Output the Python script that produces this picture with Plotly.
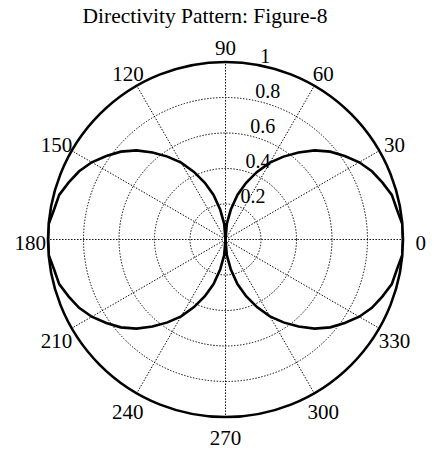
import plotly.graph_objects as go

# Figure-8 directivity pattern, sampled every 5 degrees
theta_deg = list(range(0, 361, 5))
gain = [
    1.00, 1.00, 0.98, 0.97, 0.94, 0.91, 0.87, 0.82, 0.77, 0.71, 0.64, 0.57, 0.50,
    0.42, 0.34, 0.26, 0.17, 0.09, 0.00,
    0.09, 0.17, 0.26, 0.34, 0.42, 0.50, 0.57, 0.64, 0.71, 0.77, 0.82, 0.87, 0.91,
    0.94, 0.97, 0.98, 1.00, 1.00,
    1.00, 0.98, 0.97, 0.94, 0.91, 0.87, 0.82, 0.77, 0.71, 0.64, 0.57, 0.50,
    0.42, 0.34, 0.26, 0.17, 0.09, 0.00,
    0.09, 0.17, 0.26, 0.34, 0.42, 0.50, 0.57, 0.64, 0.71, 0.77, 0.82, 0.87, 0.91,
    0.94, 0.97, 0.98, 1.00, 1.00,
]

angle_ticks = [0, 30, 60, 90, 120, 150, 180, 210, 240, 270, 300, 330]
angle_labels = [str(a) for a in angle_ticks]
radial_ticks = [0.2, 0.4, 0.6, 0.8, 1.0]
radial_labels = ["0.2", "0.4", "0.6", "0.8", "1"]

RADIAL_LABEL_ANGLE = 82
FONT = "Liberation Serif"
DOTS = "1.4px,1.6px"

W, H = 436, 450
CX, CY, R = 225.5, 239.5, 177.5     # plot centre and rim radius in pixels


def domain(cx, cy, rad):
    """Square polar domain (paper fractions) for a centre/radius in pixels."""
    return dict(x=[(cx - rad) / W, (cx + rad) / W],
                y=[1 - (cy + rad) / H, 1 - (cy - rad) / H])


hidden_polar = dict(
    bgcolor="rgba(0,0,0,0)",
    radialaxis=dict(range=[0, 1], visible=False),
    angularaxis=dict(direction="counterclockwise", rotation=0, visible=False),
)

fig = go.Figure()

# pattern curve
fig.add_trace(go.Scatterpolar(
    r=gain, theta=theta_deg, mode="lines",
    line=dict(color="black", width=2.6),
    hoverinfo="skip", showlegend=False, subplot="polar",
))

# angle labels, centred on a ring 10% outside the rim
fig.add_trace(go.Scatterpolar(
    r=[1.0] * len(angle_ticks), theta=angle_ticks,
    mode="text", text=angle_labels, textposition="middle center",
    textfont=dict(family=FONT, size=21, color="black"),
    cliponaxis=False, hoverinfo="skip", showlegend=False, subplot="polar2",
))

# radial tick labels beside the 82 degree spoke
fig.add_trace(go.Scatterpolar(
    r=radial_ticks, theta=[RADIAL_LABEL_ANGLE] * len(radial_ticks),
    mode="text", text=radial_labels, textposition="middle right",
    textfont=dict(family=FONT, size=20, color="black"),
    cliponaxis=False, hoverinfo="skip", showlegend=False, subplot="polar3",
))

fig.update_layout(
    width=W, height=H,
    margin=dict(l=0, r=0, t=0, b=0),
    paper_bgcolor="white",
    font=dict(family=FONT, size=21, color="black"),
    title=dict(
        text="Directivity Pattern: Figure-8",
        x=205 / W, xref="container", xanchor="center",
        y=1 - 15.5 / H, yref="container", yanchor="middle",
        font=dict(family=FONT, size=21.5, color="black"),
    ),
    polar=dict(
        domain=domain(CX, CY, R),
        bgcolor="white",
        radialaxis=dict(
            range=[0, 1], tickvals=radial_ticks[:-1], showticklabels=False,
            ticks="", showline=False,
            gridcolor="black", gridwidth=1.4, griddash=DOTS,
        ),
        angularaxis=dict(
            direction="counterclockwise", rotation=0,
            tickvals=angle_ticks, showticklabels=False, ticks="",
            showline=True, linecolor="black", linewidth=2.6,
            gridcolor="black", gridwidth=1.4, griddash=DOTS,
        ),
    ),
    polar2=dict(domain=domain(CX, CY + 5.2, R * 1.1), **hidden_polar),
    polar3=dict(domain=domain(CX + 10, CY - 6, R), **hidden_polar),
)

fig.write_html("out.html")
